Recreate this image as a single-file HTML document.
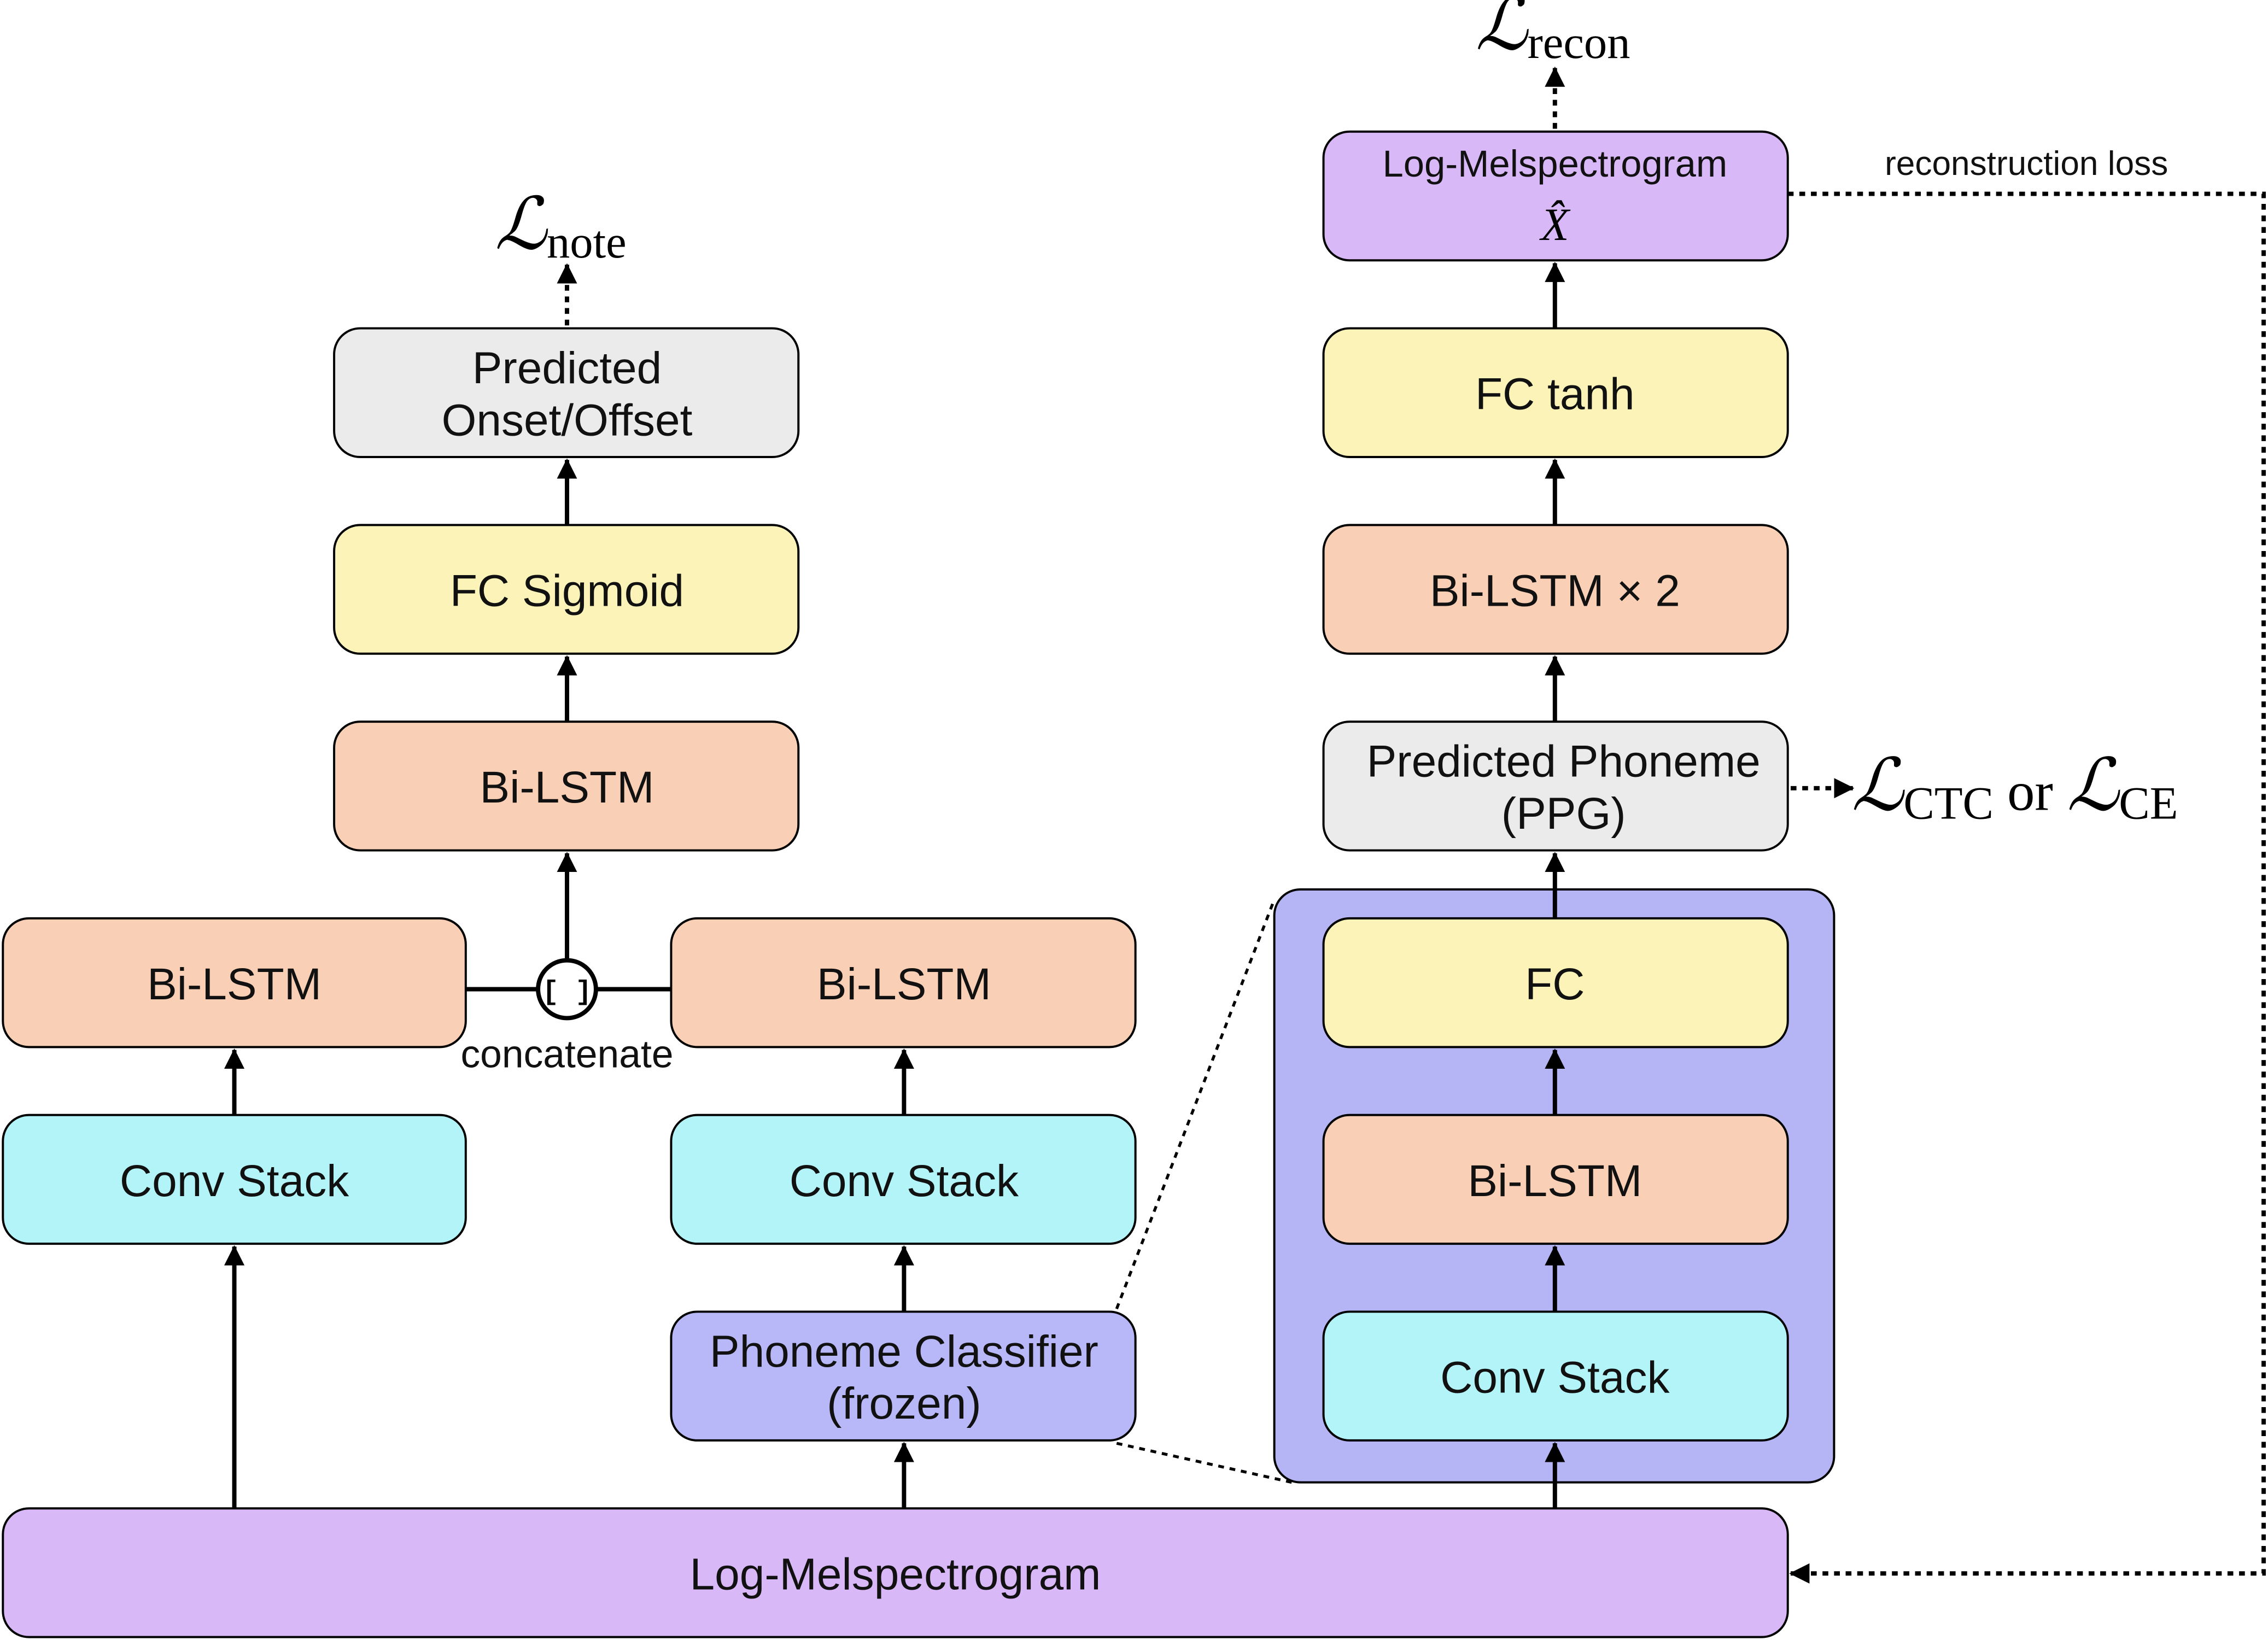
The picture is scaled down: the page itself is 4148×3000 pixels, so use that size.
<!DOCTYPE html>
<html><head><meta charset="utf-8"><style>html,body{margin:0;padding:0;background:#fff}svg{display:block}</style></head>
<body>
<svg width="4148" height="3000" viewBox="0 0 1568 1134" xmlns="http://www.w3.org/2000/svg" font-family="Liberation Sans, DejaVu Sans, sans-serif">
<defs>
<marker id="a" markerWidth="14" markerHeight="14" refX="13" refY="7" orient="auto" markerUnits="userSpaceOnUse" viewBox="0 0 14 14"><path d="M0,0 L14,7 L0,14 z" fill="#000"/></marker>
</defs>
<g stroke="#000" stroke-width="1.5">
<rect x="881" y="615" width="387" height="410" rx="18" fill="#b5b5f6"/>
<rect x="2" y="635" width="320" height="89" rx="18" fill="#f9cfb5"/>
<rect x="2" y="771" width="320" height="89" rx="18" fill="#b3f4f9"/>
<rect x="231" y="227" width="321" height="89" rx="18" fill="#ebebeb"/>
<rect x="231" y="363" width="321" height="89" rx="18" fill="#fbf3b8"/>
<rect x="231" y="499" width="321" height="89" rx="18" fill="#f9cfb5"/>
<rect x="464" y="635" width="321" height="89" rx="18" fill="#f9cfb5"/>
<rect x="464" y="771" width="321" height="89" rx="18" fill="#b3f4f9"/>
<rect x="464" y="907" width="321" height="89" rx="18" fill="#b8b8f8"/>
<rect x="2" y="1043" width="1234" height="89" rx="18" fill="#d9b8f8"/>
<rect x="915" y="91" width="321" height="89" rx="18" fill="#d9b8f8"/>
<rect x="915" y="227" width="321" height="89" rx="18" fill="#fbf3b8"/>
<rect x="915" y="363" width="321" height="89" rx="18" fill="#f9cfb5"/>
<rect x="915" y="499" width="321" height="89" rx="18" fill="#ebebeb"/>
<rect x="915" y="635" width="321" height="89" rx="18" fill="#fbf3b8"/>
<rect x="915" y="771" width="321" height="89" rx="18" fill="#f9cfb5"/>
<rect x="915" y="907" width="321" height="89" rx="18" fill="#b3f4f9"/>
</g>
<g stroke="#000" stroke-width="3" fill="none" marker-end="url(#a)">
<line x1="162" y1="1043" x2="162" y2="862"/>
<line x1="162" y1="771" x2="162" y2="726"/>
<line x1="625" y1="1043" x2="625" y2="998"/>
<line x1="625" y1="907" x2="625" y2="862"/>
<line x1="625" y1="771" x2="625" y2="726"/>
<line x1="392" y1="664" x2="392" y2="590"/>
<line x1="392" y1="499" x2="392" y2="454"/>
<line x1="392" y1="363" x2="392" y2="318"/>
<line x1="1075" y1="1043" x2="1075" y2="998"/>
<line x1="1075" y1="907" x2="1075" y2="862"/>
<line x1="1075" y1="771" x2="1075" y2="726"/>
<line x1="1075" y1="635" x2="1075" y2="590"/>
<line x1="1075" y1="499" x2="1075" y2="454"/>
<line x1="1075" y1="363" x2="1075" y2="318"/>
<line x1="1075" y1="227" x2="1075" y2="182"/>
</g>
<g stroke="#000" stroke-width="3" fill="none" stroke-dasharray="4,4">
<line x1="392" y1="225" x2="392" y2="183" marker-end="url(#a)"/>
<line x1="1075" y1="89" x2="1075" y2="47" marker-end="url(#a)"/>
<line x1="1238" y1="545" x2="1281" y2="545" marker-end="url(#a)"/>
<polyline points="1236,134 1565,134 1565,1088 1238,1088" marker-end="url(#a)"/>
</g>
<g stroke="#000" stroke-width="2" stroke-dasharray="4,4">
<line x1="772" y1="905" x2="881" y2="622"/>
<line x1="772" y1="998" x2="893" y2="1025"/>
</g>
<g stroke="#000" stroke-width="3">
<line x1="322" y1="684" x2="372" y2="684"/>
<line x1="412" y1="684" x2="464" y2="684"/>
<circle cx="392" cy="684" r="20" fill="#fff"/>
</g>
<text x="392" y="691" font-size="19" font-weight="bold" text-anchor="middle" font-family="Liberation Mono, monospace">[ ]</text>
<g font-size="31" text-anchor="middle" fill="#111">
<text x="162" y="691">Bi-LSTM</text>
<text x="162" y="827">Conv Stack</text>
<text x="392" y="265">Predicted</text>
<text x="392" y="301">Onset/Offset</text>
<text x="392" y="419">FC Sigmoid</text>
<text x="392" y="555">Bi-LSTM</text>
<text x="625" y="691">Bi-LSTM</text>
<text x="625" y="827">Conv Stack</text>
<text x="625" y="945">Phoneme Classifier</text>
<text x="625" y="981">(frozen)</text>
<text x="619" y="1099">Log-Melspectrogram</text>
<text x="1075" y="283">FC tanh</text>
<text x="1075" y="419">Bi-LSTM × 2</text>
<text x="1081" y="537">Predicted Phoneme</text>
<text x="1081" y="573">(PPG)</text>
<text x="1075" y="691">FC</text>
<text x="1075" y="827">Bi-LSTM</text>
<text x="1075" y="963">Conv Stack</text>
<text x="1075" y="122" font-size="26">Log-Melspectrogram</text>
<text x="392" y="738" font-size="27">concatenate</text>
<text x="1401" y="121" font-size="23.5">reconstruction loss</text>
</g>
<g font-family="Liberation Serif, DejaVu Serif, serif" fill="#000">
<text x="1075" y="166" font-size="32" font-style="italic" text-anchor="middle">X̂</text>
<text x="342" y="172" font-size="50" font-style="italic">ℒ<tspan font-size="32" font-style="normal" dy="6">note</tspan></text>
<text x="1020" y="34" font-size="50" font-style="italic">ℒ<tspan font-size="32" font-style="normal" dy="6">recon</tspan></text>
<text x="1280" y="560" font-size="50"><tspan font-style="italic">ℒ</tspan><tspan font-size="32" dy="6">CTC</tspan><tspan dy="-6" font-size="38"> or </tspan><tspan font-style="italic">ℒ</tspan><tspan font-size="32" dy="6">CE</tspan></text>
</g>
</svg>
</body></html>
